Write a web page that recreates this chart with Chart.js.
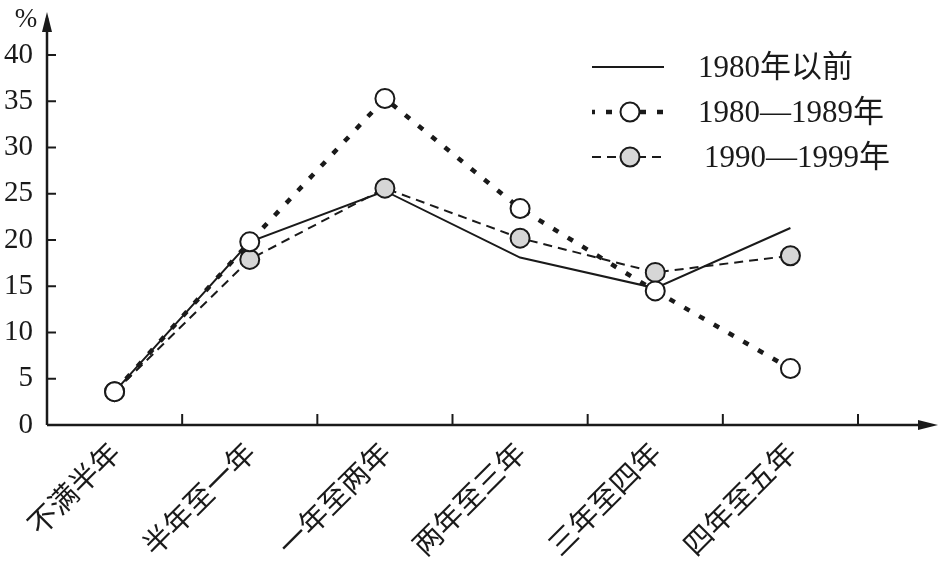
<!DOCTYPE html>
<html>
<head>
  <meta charset="UTF-8">
  <title>居住时间分布</title>
  <script src="https://cdn.jsdelivr.net/npm/chart.js"></script>
  <style>
    body { margin: 0; background: #fff; }
    #wrap { width: 945px; height: 581px; }
  </style>
</head>
<body>
  <div id="wrap"><canvas id="stayChart"></canvas></div>

  <script>
    // 数据
    const categories = ['不满半年', '半年至一年', '一年至两年', '两年至三年', '三年至四年', '四年至五年'];
    const seriesNames = ['1980年以前', '1980—1989年', '1990—1999年'];
    const before1980 = [3.6, 19.8, 25.3, 18.1, 14.8, 21.3];
    const from1980 = [3.6, 19.8, 35.3, 23.4, 14.5, 6.1];
    const from1990 = [3.6, 17.9, 25.6, 20.2, 16.5, 18.3];
    const yTicks = [0, 5, 10, 15, 20, 25, 30, 35, 40];

    const serif = '"Liberation Serif", "Noto Sans CJK SC", serif';
    const ink = '#1a1a1a';

    // 坐标轴、刻度、箭头和图例
    const axesPlugin = {
      id: 'axes',
      beforeDatasetsDraw(chart) {
        const { ctx, chartArea: a, scales: { x, y } } = chart;
        ctx.save();
        ctx.strokeStyle = ink;
        ctx.fillStyle = ink;
        ctx.lineWidth = 2.5;
        ctx.beginPath();
        ctx.moveTo(a.left, a.bottom);
        ctx.lineTo(a.left, 18);
        ctx.moveTo(a.left, a.bottom);
        ctx.lineTo(928, a.bottom);
        ctx.stroke();
        // arrows
        ctx.beginPath();
        ctx.moveTo(a.left, 12);
        ctx.lineTo(a.left - 5, 32);
        ctx.lineTo(a.left + 5, 32);
        ctx.closePath();
        ctx.fill();
        ctx.beginPath();
        ctx.moveTo(938, a.bottom);
        ctx.lineTo(918, a.bottom - 5);
        ctx.lineTo(918, a.bottom + 5);
        ctx.closePath();
        ctx.fill();
        // y ticks
        ctx.lineWidth = 2;
        yTicks.forEach(v => {
          const py = y.getPixelForValue(v);
          ctx.beginPath();
          ctx.moveTo(a.left, py);
          ctx.lineTo(a.left + 9, py);
          ctx.stroke();
        });
        // x boundary ticks
        const half = (x.getPixelForValue(1) - x.getPixelForValue(0)) / 2;
        for (let i = 1; i <= categories.length; i++) {
          const px = x.getPixelForValue(i) - half;
          ctx.beginPath();
          ctx.moveTo(px, a.bottom);
          ctx.lineTo(px, a.bottom - 11);
          ctx.stroke();
        }
        // % unit
        ctx.font = '27px ' + serif;
        ctx.textAlign = 'center';
        ctx.textBaseline = 'middle';
        ctx.fillText('%', 26, 20);
        ctx.restore();
      },
      afterDraw(chart) {
        const { ctx } = chart;
        const rows = [67, 112, 157];
        ctx.save();
        seriesNames.forEach((name, i) => {
          const ds = chart.data.datasets.find(d => d.label === name);
          const yy = rows[i];
          ctx.strokeStyle = ds.borderColor;
          ctx.lineWidth = ds.borderWidth;
          ctx.setLineDash(ds.borderDash || []);
          ctx.lineDashOffset = ds.legendDashOffset || 0;
          ctx.beginPath();
          ctx.moveTo(592, yy);
          ctx.lineTo(664, yy);
          ctx.stroke();
          ctx.setLineDash([]);
          if (ds.legendPoint) {
            ctx.beginPath();
            ctx.arc(630, yy, ds.pointRadius, 0, Math.PI * 2);
            ctx.fillStyle = ds.pointBackgroundColor;
            ctx.fill();
            ctx.lineWidth = ds.pointBorderWidth;
            ctx.strokeStyle = ds.pointBorderColor;
            ctx.stroke();
          }
          ctx.fillStyle = ink;
          ctx.font = '31px ' + serif;
          ctx.textAlign = 'left';
          ctx.textBaseline = 'middle';
          ctx.fillText(name, i === 2 ? 704 : 698, yy + 2);
        });
        ctx.restore();
      }
    };

    new Chart(document.getElementById('stayChart'), {
      type: 'line',
      data: {
        labels: categories,
        datasets: [
          {
            label: seriesNames[0],
            data: before1980,
            borderColor: ink,
            borderWidth: 2,
            pointRadius: 0,
            legendPoint: false,
            order: 3
          },
          {
            label: seriesNames[2],
            data: from1990,
            borderColor: ink,
            borderWidth: 2,
            borderDash: [9, 6],
            pointRadius: 9.5,
            pointBorderWidth: 2,
            pointBorderColor: ink,
            pointBackgroundColor: '#d6d6d6',
            legendPoint: true,
            order: 2
          },
          {
            label: seriesNames[1],
            data: from1980,
            borderColor: ink,
            borderWidth: 4.5,
            borderDash: [6, 11],
            legendDashOffset: 3,
            pointRadius: 9.5,
            pointBorderWidth: 2,
            pointBorderColor: ink,
            pointBackgroundColor: '#ffffff',
            legendPoint: true,
            order: 1
          }
        ]
      },
      options: {
        responsive: true,
        maintainAspectRatio: false,
        animation: false,
        layout: { padding: { top: 55, right: 87, left: 0, bottom: 0 } },
        plugins: { legend: { display: false }, tooltip: { enabled: false } },
        scales: {
          x: {
            offset: true,
            grid: { display: false },
            border: { display: false },
            ticks: {
              color: ink,
              font: { family: '"Noto Sans CJK SC"', size: 29 },
              minRotation: 45,
              maxRotation: 45,
              padding: 2
            },
            afterFit(scale) { scale.height = 156; }
          },
          y: {
            min: 0,
            max: 40,
            grid: { display: false },
            border: { display: false },
            ticks: {
              stepSize: 5,
              color: ink,
              font: { family: serif, size: 29 },
              padding: 6
            },
            afterFit(scale) { scale.width = 47; }
          }
        }
      },
      plugins: [axesPlugin]
    });
  </script>
</body>
</html>
